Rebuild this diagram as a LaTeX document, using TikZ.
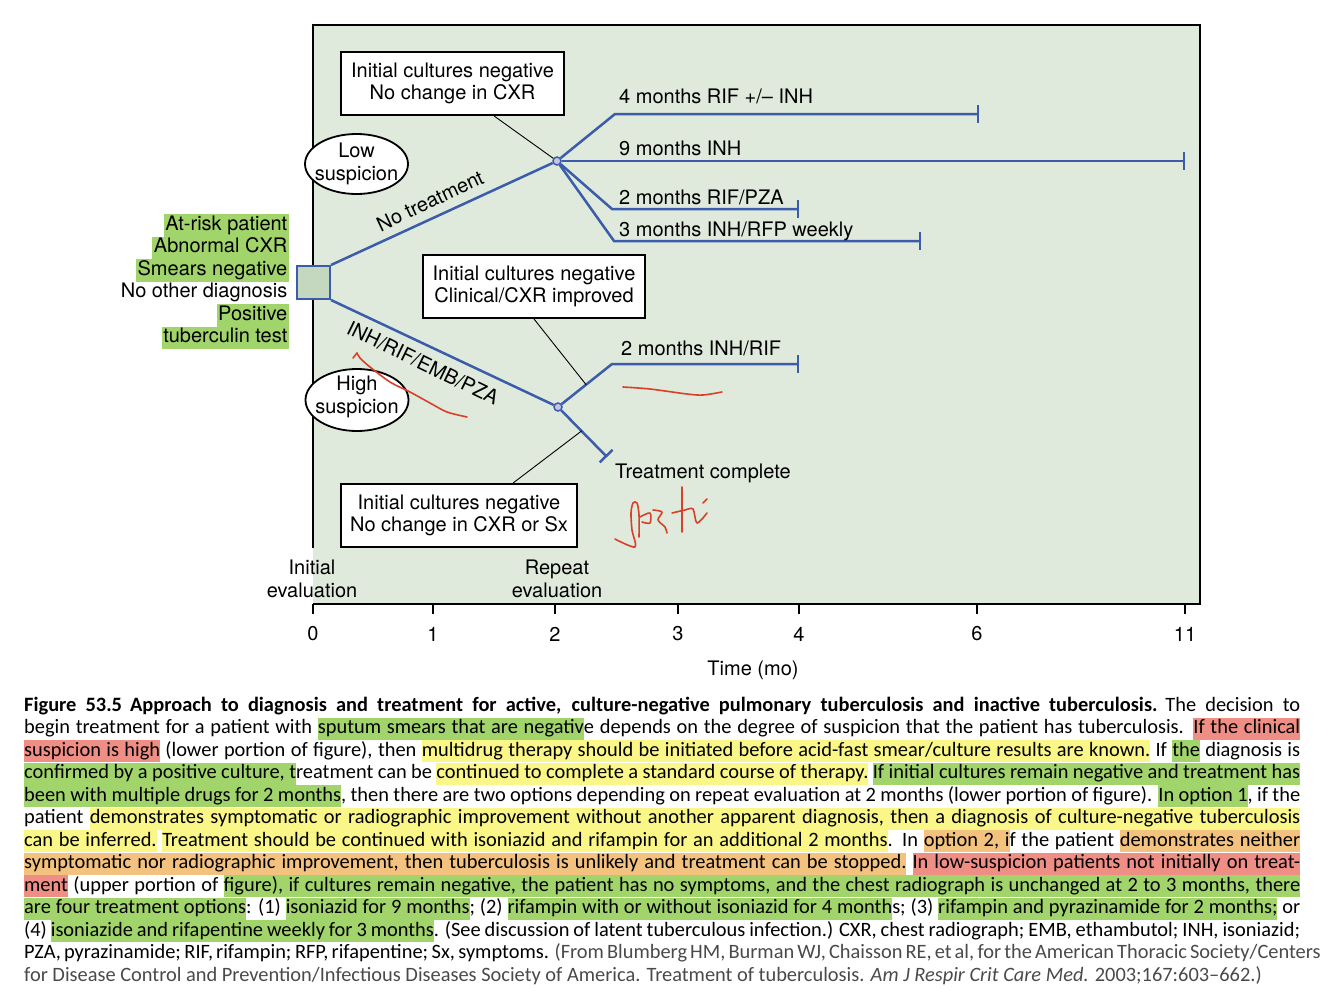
\documentclass[tikz,border=0pt]{standalone}
\usepackage{fontspec}
\setmainfont{TeX Gyre Heros}
\newfontfamily\capfont[Ligatures=TeX]{Carlito}
\usetikzlibrary{arrows.meta,shapes.geometric,calc}
\definecolor{panel}{HTML}{DFE9DC}
\definecolor{sqfill}{HTML}{C3D8BF}
\definecolor{tblue}{HTML}{3B5CAA}
\definecolor{dotfill}{HTML}{C9C3E6}
\definecolor{hlg}{HTML}{A2D46C}
\definecolor{hly}{HTML}{FAF687}
\definecolor{hlr}{HTML}{EE8E85}
\definecolor{hlo}{HTML}{F4C27F}
\definecolor{scrib}{HTML}{D9402A}
\definecolor{refgray}{HTML}{4A4A4A}
\newlength\capw
\setlength\capw{1276pt}
\makeatletter
\def\hl@ht{15.6pt}
\def\hl@dp{6.2pt}
\def\HL@word#1{{\setbox0\hbox{#1}\rlap{\color{\hl@c}\vrule height\hl@ht depth\hl@dp width\wd0}\box0}}
\def\HL@space{{\color{\hl@c}\leaders\hrule height\hl@ht depth\hl@dp\hskip\fontdimen2\font plus\fontdimen3\font minus\fontdimen4\font}}
\def\HL@loop#1 #2\@nil{\HL@word{#1}\ifx\relax#2\relax\else\HL@space\HL@loop#2\@nil\fi}
\newcommand\HLc[2]{\def\hl@c{#1}\HL@loop#2 \@nil}
\makeatother
\newcommand\HG[1]{\HLc{hlg}{#1}}
\newcommand\HY[1]{\HLc{hly}{#1}}
\newcommand\HR[1]{\HLc{hlr}{#1}}
\newcommand\HO[1]{\HLc{hlo}{#1}}
\tikzset{
  box/.style={draw, line width=2pt, fill=white, align=center, inner sep=0pt, minimum height=63pt},
  ellshape/.style={draw, line width=1.8pt, fill=white},
  elltext/.style={align=center, inner sep=0pt},
  dot/.style={circle, draw=tblue, fill=dotfill, line width=1.5pt, minimum size=8pt, inner sep=0pt},
  bl/.style={draw=tblue, line width=2.5pt},
  blbar/.style={draw=tblue, line width=2.5pt, -{Bar[width=18pt]}},
  thinc/.style={draw=black, line width=0.9pt},
  lefthl/.style={anchor=base east, fill=hlg, inner xsep=1.5pt, inner ysep=0pt, text height=16pt, text depth=6.5pt},
  leftpl/.style={anchor=base east, inner xsep=1.5pt, inner ysep=0pt, text height=16pt, text depth=6.5pt},
  lab/.style={anchor=base west, inner sep=0pt},
  tick/.style={inner sep=0pt},
  capl/.style={anchor=base west, inner sep=0pt, font=\capfont\fontsize{20.4}{22.5}\selectfont},
  scr/.style={draw=scrib, line width=1.6pt, line cap=round, line join=round}
}
\begin{document}
\begin{tikzpicture}[x=1pt,y=-1pt,font=\fontsize{20}{22.5}\selectfont]
\useasboundingbox (0,0) rectangle (1334,991);
\fill[white] (0,0) rectangle (1334,991);
% panel
\fill[panel] (313,25) rectangle (1200,604);
\draw[line width=2pt] (313,548) -- (313,25) -- (1200,25) -- (1200,604) -- (313,604);
% axis ticks and labels
\foreach \xx/\lbl in {313/0,433/1,555/2,678/3,799/4,977/6,1185/11}{
  \draw[line width=1.2pt] (\xx,604) -- (\xx,614);
  \node[tick] (t\lbl) at (\xx,634) {\lbl};
}
\node[tick] (time) at (753,670) {Time (mo)};
\node[align=center, inner sep=0pt] (ie) at (312,579) {Initial\\evaluation};
\node[align=center, inner sep=0pt] (re) at (557,579) {Repeat\\evaluation};
% left texts
\node[lefthl] (l1) at (289,230) {At-risk patient};
\node[lefthl] (l2) at (289,252.5) {Abnormal CXR};
\node[lefthl] (l3) at (289,275) {Smears negative};
\node[leftpl] (l4) at (289,297.5) {No other diagnosis};
\node[lefthl] (l5) at (289,320) {Positive};
\node[lefthl] (l6) at (289,342.5) {tuberculin test};
% square and junctions
\node[draw=tblue, fill=sqfill, line width=2pt, minimum size=33pt, inner sep=0pt] (sq) at (313.5,282.5) {};
\node[dot] (n1) at (557,161) {};
\node[dot] (n2) at (558,407) {};
% boxes
\node[box, minimum width=223pt] (b1) at (452.5,83.5) {Initial cultures negative\\No change in CXR};
\node[box, minimum width=222pt] (b2) at (534,286.5) {Initial cultures negative\\Clinical/CXR improved};
\node[box, minimum width=236pt] (b3) at (459,515.5) {Initial cultures negative\\No change in CXR or Sx};
% ellipses
\draw[ellshape] (356.5,164) ellipse [x radius=51.5, y radius=30];
\node[elltext] (low) at (356.5,164) {Low\\suspicion};
\draw[ellshape] (357,400) ellipse [x radius=51.5, y radius=31];
\node[elltext] (high) at (357,397) {High\\suspicion};
% coordinates
\coordinate (a1) at (615,114); \coordinate (a2) at (979,114);
\coordinate (b9) at (1185,161);
\coordinate (c1) at (612,209); \coordinate (c2) at (799,209);
\coordinate (d1) at (614,241); \coordinate (d2) at (921,241);
\coordinate (e1) at (612,364); \coordinate (e2) at (799,364);
\coordinate (f2) at (607,457);
% blue branches
\draw[bl] (sq.north east) -- (n1);
\draw[bl] (sq.south east) -- (n2);
\draw[blbar] (n1) -- (a1) -- (a2);
\draw[blbar] (n1) -- (b9);
\draw[blbar] (n1) -- (c1) -- (c2);
\draw[blbar] (n1) -- (d1) -- (d2);
\draw[blbar] (n2) -- (e1) -- (e2);
\draw[blbar] (n2) -- (f2);
% thin connectors
\draw[thinc] (b1.-38) -- (n1);
\draw[thinc] (b2.south) -- ($(n2)!0.52!(e1)$);
\draw[thinc] (b3.31) -- ($(n2)!0.48!(f2)$);
% branch labels
\node[lab] (o1) at (619,103) {4 months RIF +/\textendash{} INH};
\node[lab] (o2) at (619,155) {9 months INH};
\node[lab] (o3) at (619,204) {2 months RIF/PZA};
\node[lab] (o4) at (619,236) {3 months INH/RFP weekly};
\node[lab] (o5) at (621,355) {2 months INH/RIF};
\node[lab] (o6) at (615,478) {Treatment complete};
\node[rotate=25.2, inner sep=0pt] (nt) at (430,201) {No treatment};
\node[rotate=-26, inner sep=0pt] (ih) at (423,363) {INH/RIF/EMB/PZA};
% red scribbles
\draw[scr] plot[smooth] coordinates {(357,353) (360,358) (370,367) (390,382) (410,392) (430,403) (447,412) (467,417)};
\draw[scr] (357,353) -- (353,358);
\draw[scr] plot[smooth] coordinates {(623,387) (650,389) (687,394) (703,395) (722,392)};
\draw[scr] plot[smooth] coordinates {(615,539) (635,547) (632,530) (631,513) (633,503) (637,503) (639,515) (639,537)};
\draw[scr] plot[smooth] coordinates {(640,517) (650,513) (650,523) (642,522)};
\draw[scr] plot[smooth] coordinates {(653,510) (662,512) (658,520) (665,527) (667,533)};
\draw[scr] (682,487) -- (682,532);
\draw[scr] plot[smooth] coordinates {(672,513) (685,510) (693,509) (697,523) (707,513)};
\draw[scr] (703,503) -- (707,499);
% caption
\node[capl] (c01) at (24,711) {\hbox to\capw{\textbf{Figure 53.5\hspace{8pt}Approach to diagnosis and treatment for active, culture-negative pulmonary tuberculosis and inactive tuberculosis.}\hspace{8pt}The decision to}};
\node[capl] (c02) at (24,733.5) {\hbox to\capw{begin treatment for a patient with \HG{sputum smears that are negativ}e depends on the degree of suspicion that the patient has tuberculosis. \HR{If the clinical}}};
\node[capl] (c03) at (24,756) {\hbox to\capw{\HR{suspicion is high} (lower portion of figure), then \HY{multidrug therapy should be initiated before acid-fast smear/culture results are known.} If \HG{the} diagnosis is}};
\node[capl] (c04) at (24,778.5) {\hbox to\capw{\HG{confirmed by a positive culture, t}reatment can be \HY{continued to complete a standard course of therapy.} \HG{If initial cultures remain negative and treatment has}}};
\node[capl] (c05) at (24,801) {\hbox to\capw{\HG{been with multiple drugs for 2 months}, then there are two options depending on repeat evaluation at 2 months (lower portion of figure). \HG{In option 1}, if the}};
\node[capl] (c06) at (24,823.5) {\hbox to\capw{patient \HY{demonstrates symptomatic or radiographic improvement without another apparent diagnosis, then a diagnosis of culture-negative tuberculosis}}};
\node[capl] (c07) at (24,846) {\hbox to\capw{\HY{can be inferred.} \HY{Treatment should be continued with isoniazid and rifampin for an additional 2 months}. In \HO{option 2, i}f the patient \HO{demonstrates neither}}};
\node[capl] (c08) at (24,868.5) {\hbox to\capw{\HO{symptomatic nor radiographic improvement, then tuberculosis is unlikely and treatment can be stopped.} \HR{In low-suspicion patients not initially on treat-}}};
\node[capl] (c09) at (24,891) {\hbox to\capw{\HR{ment} (upper portion of \HG{figure), if cultures remain negative, the patient has no symptoms, and the chest radiograph is unchanged at 2 to 3 months, there}}};
\node[capl] (c10) at (24,913.5) {\hbox to\capw{\HG{are four treatment options}: (1) \HG{isoniazid for 9 months}; (2) \HG{rifampin with or without isoniazid for 4 month}s; (3) \HG{rifampin and pyrazinamide for 2 months;} or}};
\node[capl] (c11) at (24,936) {\hbox to\capw{(4) \HG{isoniazide and rifapentine weekly for 3 months}. (See discussion of latent tuberculous infection.) CXR, chest radiograph; EMB, ethambutol; INH, isoniazid;}};
\node[capl] (c12) at (24,958.5) {\hbox to\capw{PZA, pyrazinamide; RIF, rifampin; RFP, rifapentine; Sx, symptoms. {\color{refgray}(From Blumberg HM, Burman WJ, Chaisson RE, et al, for the American Thoracic Society/Centers}}};
\node[capl] (c13) at (24,981) {\hbox to\capw{\color{refgray}for Disease Control and Prevention/Infectious Diseases Society of America. Treatment of tuberculosis. \textit{Am J Respir Crit Care Med.} 2003;167:603\textendash 662.)\hfil}};
\end{tikzpicture}
\end{document}
